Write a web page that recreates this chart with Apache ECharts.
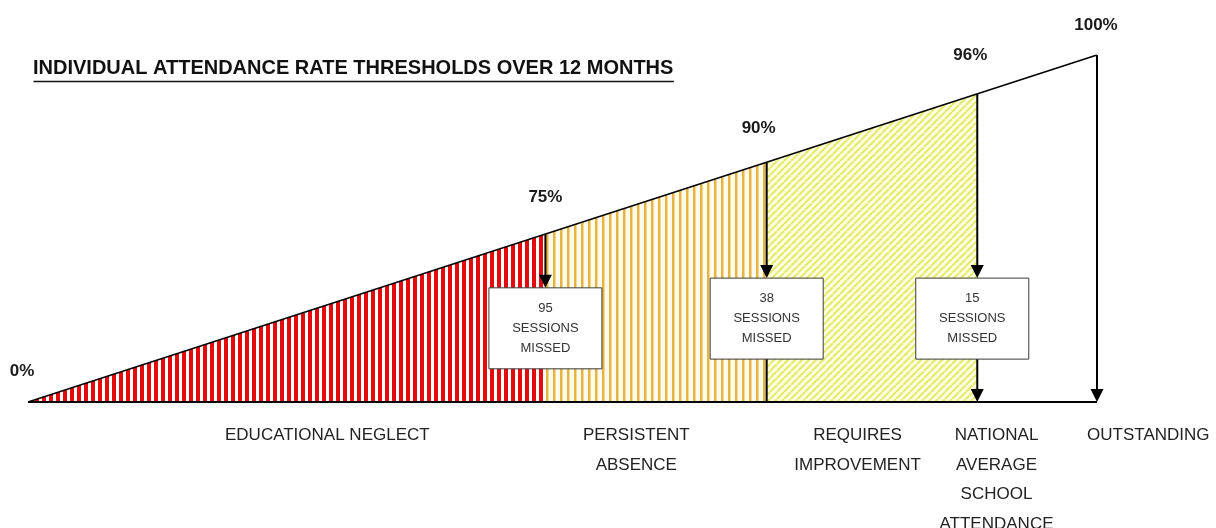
<!DOCTYPE html>
<html>
<head>
<meta charset="UTF-8">
<title>Attendance rate thresholds</title>
<script src="https://cdn.jsdelivr.net/npm/echarts@6/dist/echarts.min.js"></script>
<style>
    html,body{margin:0;padding:0;background:#fff;}
    #chart{width:1216px;height:528px;}
</style>
</head>
<body>
<div id="chart"></div>
<script>
// ---- data ----
var titleText = 'INDIVIDUAL ATTENDANCE RATE THRESHOLDS OVER 12 MONTHS';
var thresholdLabels = ['0%', '75%', '90%', '96%', '100%'];
// where each threshold sits along the base (0..100 of the base width)
var thresholdPos = [0, 48.4, 69.1, 88.8, 100];
var sessionsMissed = [95, 38, 15];
var bandNames = ['EDUCATIONAL NEGLECT', 'PERSISTENT\nABSENCE', 'REQUIRES\nIMPROVEMENT',
                 'NATIONAL\nAVERAGE\nSCHOOL\nATTENDANCE', 'OUTSTANDING'];

// ---- layout bits (not data) ----
var bandLabelX = [28.0, 56.9, 77.6, 90.6, 104.8];
var boxTopVal = [32.9, 35.7, 35.7];
var boxDx = [0, 0, -5];
var pctOffset = [[-6, -31], [0, -37], [-8, -34], [-7, -39], [-1, -30]];
var FONT = '"Liberation Sans", Arial, sans-serif';

function makePattern(kind) {
    var c = document.createElement('canvas');
    var ctx = c.getContext('2d');
    if (kind === 'red') {
        c.width = 7; c.height = 4;
        ctx.fillStyle = '#ffffff'; ctx.fillRect(0, 0, 7, 4);
        ctx.fillStyle = '#e30b0b'; ctx.fillRect(0, 0, 4, 4);
    } else if (kind === 'gold') {
        c.width = 7; c.height = 4;
        ctx.fillStyle = '#fffcee'; ctx.fillRect(0, 0, 7, 4);
        ctx.fillStyle = '#e8b440'; ctx.fillRect(0, 0, 2.5, 4);
    } else {
        c.width = 7; c.height = 7;
        ctx.fillStyle = '#fdfde2'; ctx.fillRect(0, 0, 7, 7);
        ctx.strokeStyle = '#e6ea6c'; ctx.lineWidth = 2;
        [-7, 0, 7].forEach(function (k) {
            ctx.beginPath(); ctx.moveTo(k, 7); ctx.lineTo(k + 7, 0); ctx.stroke();
        });
    }
    return { image: c, repeat: 'repeat' };
}
var patterns = [makePattern('red'), makePattern('gold'), makePattern('diag')];

// bands between thresholds (last band stays white)
var bandData = [];
for (var i = 0; i < 3; i++) {
    bandData.push([thresholdPos[i], thresholdPos[i + 1], i]);
}
var markerData = [];
for (var j = 1; j < thresholdPos.length; j++) {
    markerData.push([thresholdPos[j], thresholdPos[j], j - 1]);
}
var pctData = thresholdPos.map(function (p, k) { return [p, p, k]; });
var bandLabelData = bandNames.map(function (n, k) { return [bandLabelX[k], 0, k]; });

function renderBand(params, api) {
    var x0 = api.value(0), x1 = api.value(1);
    var pts = [api.coord([x0, 0]), api.coord([x1, 0]), api.coord([x1, x1]), api.coord([x0, x0])];
    return {
        type: 'polygon',
        shape: { points: pts },
        style: { fill: patterns[api.value(2)], stroke: null }
    };
}

function arrowHead(x, tipY) {
    return {
        type: 'polygon',
        shape: { points: [[x - 6.5, tipY - 13], [x + 6.5, tipY - 13], [x, tipY]] },
        style: { fill: '#000' }
    };
}
function vline(x, y0, y1) {
    return { type: 'line', shape: { x1: x, y1: y0, x2: x, y2: y1 }, style: { stroke: '#000', lineWidth: 2 } };
}

function renderMarker(params, api) {
    var pos = api.value(0);
    var k = api.value(2);
    var top = api.coord([pos, pos]);
    var base = api.coord([pos, 0]);
    var x = top[0];
    var kids = [];
    if (k < 3) {
        var bt = api.coord([pos, boxTopVal[k]])[1];
        var bh = 81, bw = 113;
        var bx = x + boxDx[k];
        kids.push(vline(x, top[1], bt - 10));
        kids.push(arrowHead(x, bt));
        if (k > 0) {
            kids.push(vline(x, bt + bh, k === 2 ? base[1] - 10 : base[1]));
            if (k === 2) kids.push(arrowHead(x, base[1]));
        }
        kids.push({
            type: 'rect',
            shape: { x: bx - bw / 2, y: bt, width: bw, height: bh },
            style: { fill: '#fff', stroke: '#3a3a3a', lineWidth: 1 }
        });
        kids.push({
            type: 'text',
            x: bx, y: bt + bh / 2,
            style: {
                text: sessionsMissed[k] + '\nSESSIONS\nMISSED',
                fill: '#333', font: '13px ' + FONT,
                align: 'center', verticalAlign: 'middle', lineHeight: 20
            }
        });
    } else {
        kids.push(vline(x, top[1], base[1] - 10));
        kids.push(arrowHead(x, base[1]));
    }
    return { type: 'group', children: kids };
}

function renderPct(params, api) {
    var k = api.value(2);
    var p = api.coord([api.value(0), api.value(1)]);
    return {
        type: 'text',
        x: p[0] + pctOffset[k][0], y: p[1] + pctOffset[k][1],
        style: {
            text: thresholdLabels[k], fill: '#1a1a1a', font: 'bold 17px ' + FONT,
            align: 'center', verticalAlign: 'middle'
        }
    };
}

function renderBandLabel(params, api) {
    var k = api.value(2);
    var p = api.coord([api.value(0), api.value(1)]);
    return {
        type: 'text',
        x: p[0], y: p[1] + 19,
        style: {
            text: bandNames[k], fill: '#222', font: '17px ' + FONT,
            align: 'center', verticalAlign: 'top', lineHeight: 29.5
        }
    };
}

var m = document.createElement('canvas').getContext('2d');
m.font = 'bold 20px ' + FONT;
var titleW = m.measureText(titleText).width;

var chart = echarts.init(document.getElementById('chart'));
var option = {
    animation: false,
    grid: { left: 28, right: 119, top: 55, bottom: 126 },
    xAxis: { type: 'value', min: 0, max: 100, show: false },
    yAxis: { type: 'value', min: 0, max: 100, show: false },
    graphic: [
        {
            type: 'text', left: 33, top: 58,
            style: { text: titleText, fill: '#111', font: 'bold 20px ' + FONT }
        },
        {
            type: 'line', left: 31, top: 79,
            shape: { x1: 0, y1: 0, x2: titleW, y2: 0 },
            style: { stroke: '#111', lineWidth: 1.5 }
        }
    ],
    series: [
        { type: 'custom', renderItem: renderBand, data: bandData, silent: true, clip: false },
        {
            type: 'line', data: [[0, 0], [100, 100]], symbol: 'none', silent: true,
            lineStyle: { color: '#000', width: 1.5 }
        },
        {
            type: 'line', data: [[0, 0], [100, 0]], symbol: 'none', silent: true,
            lineStyle: { color: '#000', width: 2 }
        },
        { type: 'custom', renderItem: renderMarker, data: markerData, silent: true, clip: false },
        { type: 'custom', renderItem: renderPct, data: pctData, silent: true, clip: false },
        { type: 'custom', renderItem: renderBandLabel, data: bandLabelData, silent: true, clip: false }
    ]
};
chart.setOption(option);
</script>
</body>
</html>
